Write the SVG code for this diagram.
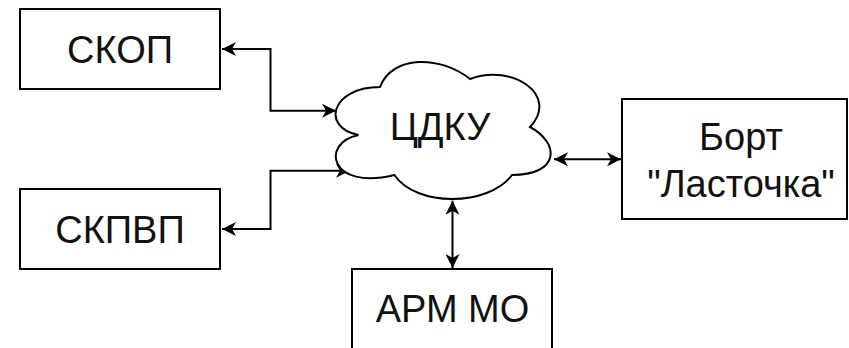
<svg xmlns="http://www.w3.org/2000/svg" width="849" height="348" viewBox="0 0 849 348">
  <style>
    .box { fill: #ffffff; stroke: #000000; stroke-width: 2; }
    .label { font-family: "Liberation Sans", Arial, sans-serif; font-size: 38px; fill: #111111; text-anchor: middle; }
    .link { fill: none; stroke: #000000; stroke-width: 2; marker-start: url(#arrow); marker-end: url(#arrow); }
  </style>
  <defs>
    <marker id="arrow" viewBox="0 0 14 14" refX="14" refY="7" markerWidth="14" markerHeight="14" markerUnits="userSpaceOnUse" orient="auto-start-reverse">
      <path d="M0,0 L14,7 L0,14 L4,7 Z" fill="#000000"/>
    </marker>
  </defs>
  <rect width="849" height="348" fill="#ffffff"/>

  <g id="connectors">
    <path class="link" d="M222,49 H270.5 V110.7 H336"/>
    <path class="link" d="M222,229 H270.5 V170.7 H350"/>
    <path class="link" d="M554,159.3 H621"/>
    <path class="link" d="M452.5,200.7 V268"/>
  </g>

  <g id="skop">
    <rect class="box" x="20" y="9" width="200" height="80"/>
    <text class="label" x="120" y="63">СКОП</text>
  </g>

  <g id="skpvp">
    <rect class="box" x="20" y="189" width="200" height="80"/>
    <text class="label" x="120" y="243">СКПВП</text>
  </g>

  <g id="cdku">
    <!-- cloud: x=320 y=47 w=240 h=160 -->
    <path class="box" d="M380,87 C332,87 320,127 358.4,135 C320,143 329.6,191 394.4,175 C416,207 488,207 512,175 C560,175 560,143 530,127 C560,95 512,63 470,79 C440,55 392,55 380,87 Z"/>
    <text class="label" x="440" y="140">ЦДКУ</text>
  </g>

  <g id="bort">
    <rect class="box" x="622" y="99" width="225" height="120"/>
    <text class="label" x="741" y="150">Борт</text>
    <text class="label" x="741" y="197">"Ласточка"</text>
  </g>

  <g id="arm-mo">
    <rect class="box" x="352" y="269" width="200" height="80"/>
    <text class="label" x="452.5" y="322">АРМ МО</text>
  </g>
</svg>
